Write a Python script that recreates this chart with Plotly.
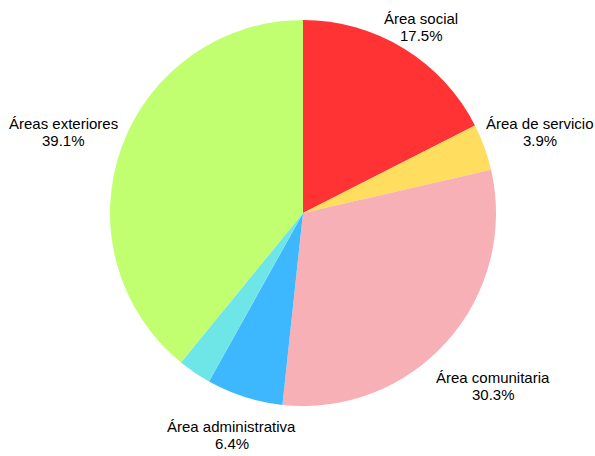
import math
import plotly.graph_objects as go

# Distribución de superficie por tipo de área (%)
labels = ["Área social", "Área de servicio", "Área comunitaria",
          "Área administrativa", "", "Áreas exteriores"]
values = [17.5, 3.9, 30.3, 6.4, 2.8, 39.1]
colors = ["#FF3333", "#FFDD5E", "#F7B0B5", "#3DB8FF", "#6EE6E8", "#C2FF70"]

W, H = 595, 456
cx, cy, r = 303, 213, 193          # pie centre and radius in pixels
margin_l = cx - r
margin_t = cy - r
margin_r = W - (cx + r)
margin_b = H - (cy + r)

LABEL_DIST = 1.2                   # label distance as a fraction of the radius
LINE_GAP = 17                      # pixels between the two label lines
FONT = dict(family="Liberation Sans, Arial, sans-serif", size=15, color="#000000")

# small pixel nudges so each label sits clear of the pie edge
nudge = {
    "Área social": (-3, 11),
    "Área de servicio": (19, -2),
    "Área comunitaria": (17, 19),
    "Área administrativa": (-1, 1),
    "Áreas exteriores": (-21, -3),
}

fig = go.Figure(go.Pie(
    labels=labels,
    values=values,
    marker=dict(colors=colors, line=dict(width=0)),
    sort=False,
    direction="clockwise",
    rotation=0,
    textinfo="none",
    hoverinfo="skip",
    showlegend=False,
    domain=dict(x=[0, 1], y=[0, 1]),
))


def to_paper(px, py):
    return (px - margin_l) / (2 * r), (cy + r - py) / (2 * r)


# Outside labels placed along each slice's mid-angle
total = sum(values)
cum = 0.0
annotations = []
for lab, v in zip(labels, values):
    mid = (cum + v / 2) / total
    cum += v
    if not lab:
        continue
    ang = math.radians(90 - mid * 360)
    dx, dy = nudge.get(lab, (0, 0))
    px = cx + LABEL_DIST * r * math.cos(ang) + dx
    py = cy - LABEL_DIST * r * math.sin(ang) + dy
    for text, off in ((lab, -LINE_GAP / 2), (f"{v:.1f}%", LINE_GAP / 2)):
        x, y = to_paper(px, py + off)
        annotations.append(dict(
            x=x, y=y, xref="paper", yref="paper",
            text=text, showarrow=False,
            xanchor="center", yanchor="middle", align="center",
            font=FONT,
        ))

fig.update_layout(
    width=W, height=H,
    margin=dict(l=margin_l, r=margin_r, t=margin_t, b=margin_b, pad=0),
    paper_bgcolor="white",
    plot_bgcolor="white",
    annotations=annotations,
)

fig.write_html("out.html")
